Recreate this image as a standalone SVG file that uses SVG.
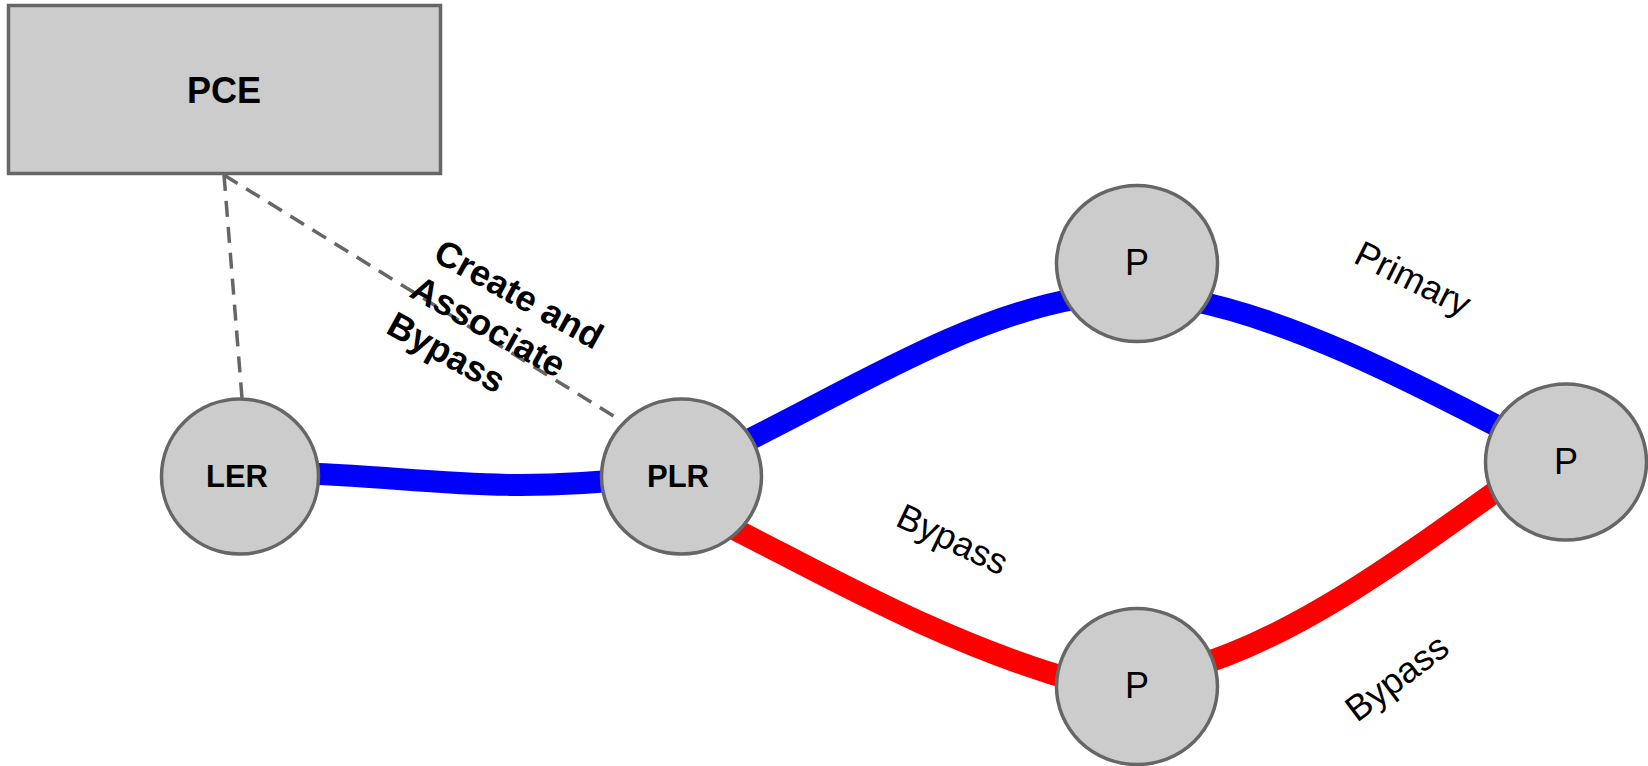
<svg xmlns="http://www.w3.org/2000/svg" width="1648" height="766" viewBox="0 0 1648 766">
<defs>
<style>
.node{fill:#cccccc;stroke:#666666;stroke-width:3.5}
.bold{font-family:"Liberation Sans",Arial,sans-serif;font-weight:bold;fill:#000}
.reg{font-family:"Liberation Sans",Arial,sans-serif;fill:#000}
.dash{fill:none;stroke:#666666;stroke-width:3.5;stroke-dasharray:16 10}
.blue{fill:none;stroke:#0000ff;stroke-width:22}
.red{fill:none;stroke:#ff0000;stroke-width:22}
</style>
</defs>
<rect width="1648" height="766" fill="#ffffff"/>
<g id="connectors">
<path class="dash" d="M224,175 L242,398"/>
<path class="dash" d="M224,175 L620,420"/>
<path class="blue" d="M318,474 C420,478 500,494 640,478"/>
<path class="blue" d="M690,468 C820,410 950,320 1080,298"/>
<path class="blue" d="M1190,300 C1290,320 1400,375 1520,438"/>
<path class="red" d="M700,512 C800,560 930,640 1080,682"/>
<path class="red" d="M1190,668 C1300,635 1400,560 1520,474"/>
</g>
<g id="pce">
<rect class="node" x="8.5" y="5.5" width="432" height="168"/>
<text class="bold" x="224" y="103" font-size="36" text-anchor="middle">PCE</text>
</g>
<g id="ler">
<ellipse class="node" cx="240" cy="476.5" rx="78.5" ry="77.5"/>
<text class="bold" x="237" y="487" font-size="31" text-anchor="middle">LER</text>
</g>
<g id="plr">
<ellipse class="node" cx="681.5" cy="476.5" rx="80" ry="77.5"/>
<text class="bold" x="678" y="487" font-size="31" text-anchor="middle">PLR</text>
</g>
<g id="p-top">
<ellipse class="node" cx="1137" cy="263.5" rx="80.5" ry="78"/>
<text class="reg" x="1137" y="275" font-size="36" text-anchor="middle">P</text>
</g>
<g id="p-right">
<ellipse class="node" cx="1566" cy="462" rx="80.5" ry="78"/>
<text class="reg" x="1566" y="474" font-size="36" text-anchor="middle">P</text>
</g>
<g id="p-bottom">
<ellipse class="node" cx="1137" cy="686.5" rx="80.5" ry="78"/>
<text class="reg" x="1137" y="698" font-size="36" text-anchor="middle">P</text>
</g>
<g id="labels">
<g transform="translate(408,296) rotate(29)">
<text class="bold" font-size="36"><tspan x="3" y="-43">Create and</tspan><tspan x="0" y="0">Associate</tspan><tspan x="-3" y="43">Bypass</tspan></text>
</g>
<text class="reg" font-size="36" transform="translate(1352,262) rotate(26.5)">Primary</text>
<text class="reg" font-size="36" transform="translate(894,525) rotate(25.5)">Bypass</text>
<text class="reg" font-size="36" transform="translate(1357,723) rotate(-37)">Bypass</text>
</g>
</svg>
